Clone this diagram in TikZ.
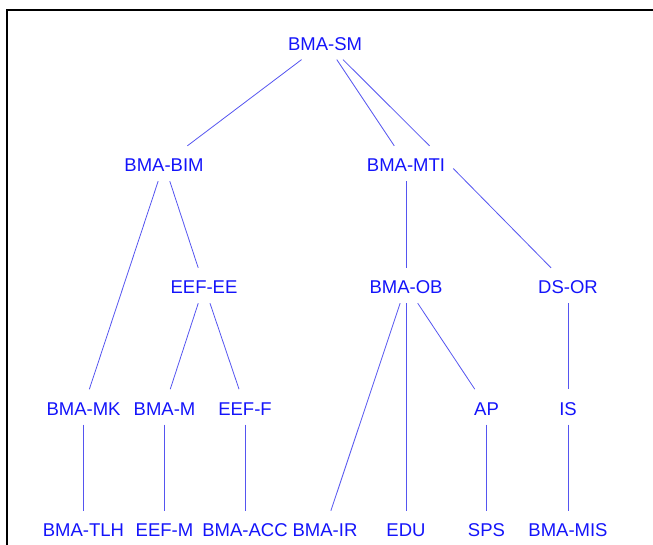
\documentclass[tikz,border=0pt]{standalone}
\usepackage{fontspec}
\setmainfont{Liberation Sans}
\usepackage{tikz}
\definecolor{termblue}{RGB}{20,20,250}
\definecolor{linkblue}{RGB}{85,85,240}
\tikzset{
    term/.style={text=termblue, inner sep=0pt, text height=25.6pt, text depth=9.4pt, anchor=base, font=\fontsize{18.5}{20}\selectfont},
    link/.style={draw=linkblue, line width=0.8pt},
    frame/.style={draw=black, line width=2pt},
}

\begin{document}
\begin{tikzpicture}[x=1pt, y=-1pt]
        \useasboundingbox (0,0) rectangle (653,544);
        \clip (0,0) rectangle (653,544);
        \draw [frame] (660,10) -- (7.3,10) -- (7.3,550);
        % top and second level
        \node [term] (bmasm) at (325,50) {BMA-SM};
        \node [term] (bmabim) at (164,171.6) {BMA-BIM};
        \node [term] (bmamti) at (406,171.6) {BMA-MTI};
        % third level
        \node [term] (eefee) at (204,293.6) {EEF-EE};
        \node [term] (bmaob) at (406,293.6) {BMA-OB};
        \node [term] (dsor) at (568,293.6) {DS-OR};
        % fourth level
        \node [term] (bmamk) at (83.5,415) {BMA-MK};
        \node [term] (bmam) at (164.5,415) {BMA-M};
        \node [term] (eeff) at (245,415) {EEF-F};
        \node [term] (ap) at (486.5,415) {AP};
        \node [term] (is) at (568,415) {IS};
        % leaves
        \node [term] (bmatlh) at (83.5,536.6) {BMA-TLH};
        \node [term] (eefm) at (164.5,536.6) {EEF-M};
        \node [term] (bmaacc) at (245,536.6) {BMA-ACC};
        \node [term] (bmair) at (325,536.6) {BMA-IR};
        \node [term] (edu) at (406,536.6) {EDU};
        \node [term] (sps) at (486.5,536.6) {SPS};
        \node [term] (bmamis) at (568,536.6) {BMA-MIS};
        \draw [link] (bmasm) -- (bmabim);
        \draw [link] (bmasm) -- (bmamti);
        \draw [link] ([xshift=18pt]bmasm.south) -- ([xshift=23.5pt]bmamti.north);
        \draw [link] (bmabim) -- (bmamk);
        \draw [link] (bmabim) -- (eefee);
        \draw [link] (eefee) -- (bmam);
        \draw [link] (eefee) -- (eeff);
        \draw [link] (bmamti) -- (bmaob);
        \draw [link] ([xshift=8pt, yshift=-5pt]bmamti.east) -- ([xshift=-17pt]dsor.north);
        \draw [link] (bmaob) -- (bmair);
        \draw [link] (bmaob) -- (edu);
        \draw [link] (bmaob) -- (ap);
        \draw [link] (dsor) -- (is);
        \draw [link] (bmamk) -- (bmatlh);
        \draw [link] (bmam) -- (eefm);
        \draw [link] (eeff) -- (bmaacc);
        \draw [link] (ap) -- (sps);
        \draw [link] (is) -- (bmamis);
    \end{tikzpicture}
\end{document}
